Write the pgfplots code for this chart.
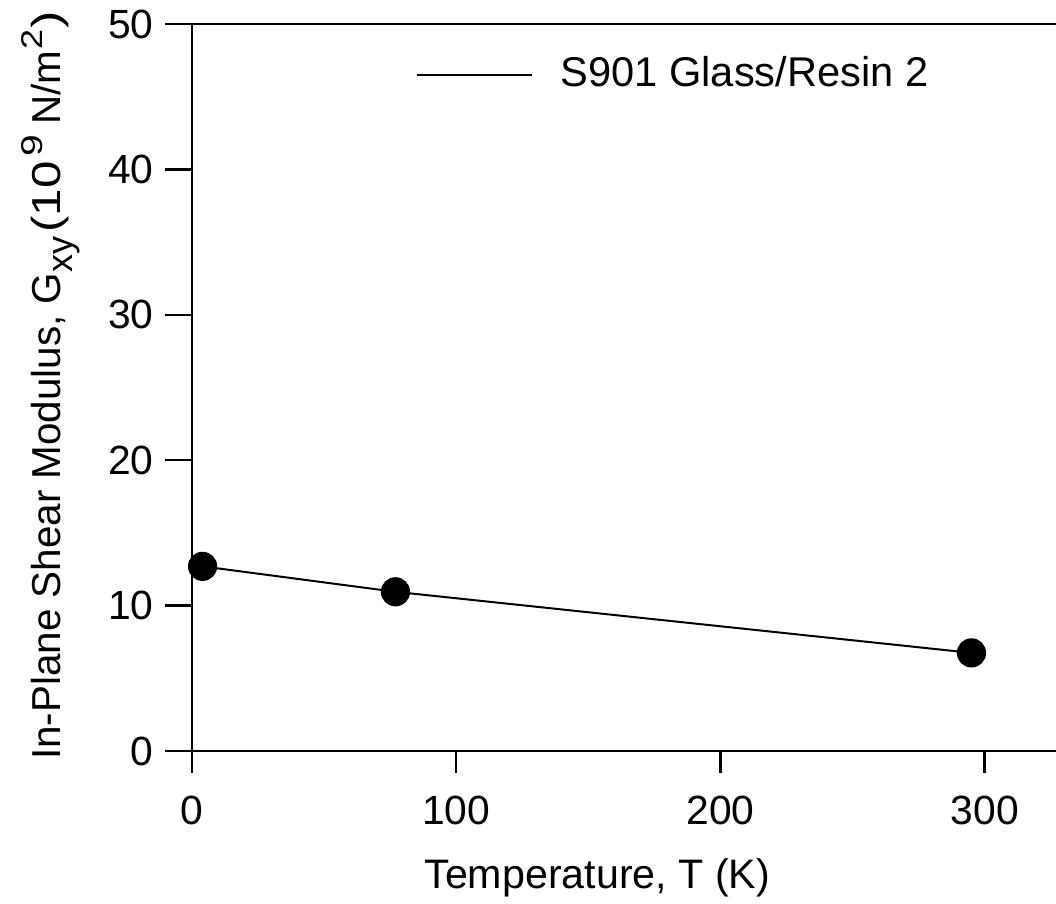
\documentclass[border=0pt]{standalone}
\usepackage{fontspec}
\setmainfont{Liberation Sans}
\usepackage{pgfplots}
\pgfplotsset{compat=1.18}
\begin{document}
\begin{tikzpicture}
\begin{axis}[
  scale only axis,
  width=216pt, height=181.75pt,
  xmin=0, xmax=327, ymin=0, ymax=50,
  axis x line*=box, axis y line*=left,
  axis line style={line width=0.7pt, black},
  xtick={0,100,200,300}, ytick={0,10,20,30,40,50},
  xtick pos=bottom, ytick pos=left,
  tick align=outside,
  tick style={line width=0.6pt, black},
  xtick style={/pgfplots/major tick length=5.5pt},
  ytick style={/pgfplots/major tick length=6.7pt},
  /pgf/number format/assume math mode=true,
  tick label style={font=\fontsize{10.2}{12}\selectfont},
  xticklabel style={yshift=-3.5pt},
  yticklabel style={xshift=-1.8pt},
  xlabel={Temperature, T (K)},
  xlabel style={font=\fontsize{10.3}{12}\selectfont, at={(axis description cs:0.469,0)}, anchor=center, yshift=-31.7pt},
  ylabel={In-Plane Shear Modulus, G\makebox[10pt][l]{\fontsize{9}{9}\selectfont\raisebox{-3pt}{xy}}\scalebox{1.22}[1]{(10}\makebox[8pt][c]{\fontsize{7.5}{8}\selectfont\raisebox{4.5pt}{\scalebox{1.3}[1]{9}}}\hspace{1.2pt}N/m\makebox[5.5pt][c]{\fontsize{7.5}{8}\selectfont\raisebox{4.5pt}{\scalebox{1.2}[1]{2}}}\scalebox{1.3}[1]{)}},
  ylabel style={font=\fontsize{10.1}{12}\selectfont, at={(axis description cs:0,0.5028)}, anchor=center, yshift=35.4pt},
  legend style={draw=none, fill=none, at={(axis description cs:0.258,0.93)}, anchor=west, inner sep=0pt, font=\fontsize{10.4}{12}\selectfont},
  legend image code/.code={\draw[black, line width=0.5pt] (0pt,0pt) -- (28.75pt,0pt);},
  legend cell align=left,
  clip=false,
]
\addplot[black, line width=0.5pt, mark=*, mark size=3.4pt, mark options={fill=black}]
  coordinates {(4,12.7) (77,10.95) (295,6.75)};
\addlegendentry{\hspace{5pt}S901 Glass/Resin 2}
\end{axis}
\pgfresetboundingbox
\path (-48pt,-38pt) rectangle (216pt,187.75pt);
\end{tikzpicture}
\end{document}
